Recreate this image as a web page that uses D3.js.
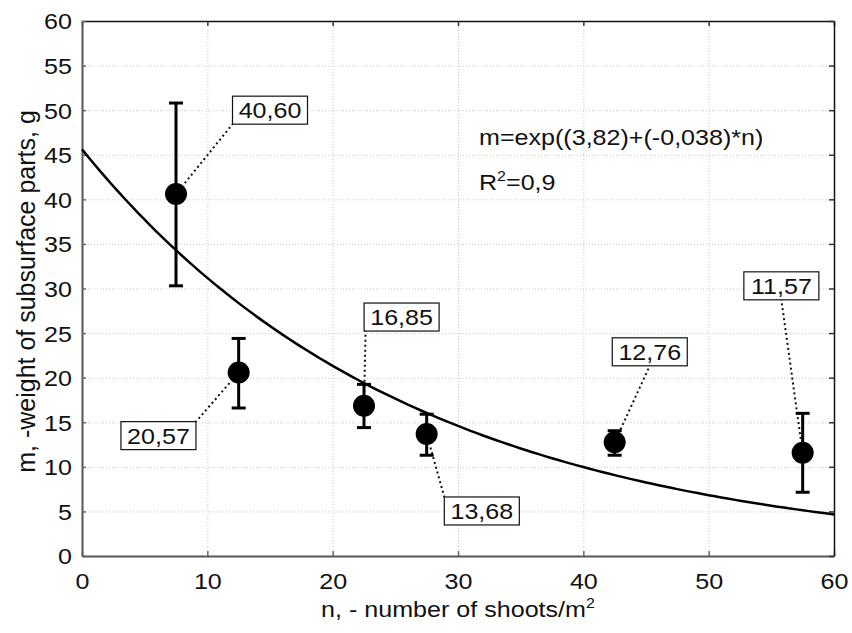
<!DOCTYPE html>
<html>
<head>
<meta charset="utf-8">
<script src="https://cdn.jsdelivr.net/npm/d3@7/dist/d3.min.js"></script>
<style>
  html, body { margin: 0; padding: 0; background: #fff; }
  svg { display: block; font-family: "Liberation Sans", Arial, sans-serif; }
</style>
</head>
<body>
<svg id="chart" width="852" height="633"></svg>
<script>
// ---- data ----
const shoots = [7.5, 12.5, 22.5, 27.5, 42.5, 57.5];
const weight = [40.60, 20.57, 16.85, 13.68, 12.76, 11.57];
const errHigh = [50.8, 24.4, 19.25, 15.9, 14.05, 16.0];
const errLow  = [30.3, 16.6, 14.4, 11.3, 11.3, 7.15];
const pointLabels = ["40,60", "20,57", "16,85", "13,68", "12,76", "11,57"];
const xTicks = [0, 10, 20, 30, 40, 50, 60];
const yTicks = [0, 5, 10, 15, 20, 25, 30, 35, 40, 45, 50, 55, 60];
const fitCoef = [3.82, -0.038];   // m = exp(a + b*n), from the chart's equation
const fitText = "m=exp((3,82)+(-0,038)*n)";
const r2Text = "=0,9";
const xTitle = "n, - number of shoots/m";
const yTitle = "m, -weight of subsurface parts, g";

// label box centres (data units) and anchor on box (fractions)
const labelCenter = [[15.0, 50.0], [6.1, 13.5], [25.5, 26.8], [31.9, 5.05], [45.3, 22.9], [55.8, 30.3]];
const labelAnchor = [[0, 1], [1, 0], [0.02, 1], [0, 0], [0.5, 1], [0.5, 1]];

// ---- layout ----
(function () {
const svg = d3.select("#chart");
const L = 82, R = 834, T = 21, B = 556;
const x = d3.scaleLinear().domain([0, 60]).range([L, R]);
const y = d3.scaleLinear().domain([0, 60]).range([B, T]);
const STRETCH = 1.14;

function stretch(sel) {
  sel.each(function () {
    const w = this.getComputedTextLength();
    d3.select(this).attr("textLength", w * STRETCH).attr("lengthAdjust", "spacingAndGlyphs");
  });
}

// grid
const grid = svg.append("g").attr("stroke", "#c8c8c8").attr("stroke-width", 1).attr("stroke-dasharray", "1,2");
grid.selectAll("line.h").data(yTicks.filter(d => d > 0 && d < 60)).join("line")
  .attr("x1", L).attr("x2", R).attr("y1", d => y(d) + 0.5).attr("y2", d => y(d) + 0.5);
grid.selectAll("line.v").data(xTicks.filter(d => d > 0 && d < 60)).join("line")
  .attr("y1", T).attr("y2", B).attr("x1", d => x(d) + 0.5).attr("x2", d => x(d) + 0.5);

// axes with d3 axis generators (inward ticks)
const ax = svg.append("g");
const gBottom = ax.append("g").attr("transform", `translate(0,${B})`)
  .call(d3.axisBottom(x).tickValues(xTicks).tickSizeInner(-5).tickSizeOuter(0).tickPadding(17));
const gTop = ax.append("g").attr("transform", `translate(0,${T})`)
  .call(d3.axisTop(x).tickValues(xTicks).tickSizeInner(-5).tickSizeOuter(0).tickFormat(""));
const gLeft = ax.append("g").attr("transform", `translate(${L},0)`)
  .call(d3.axisLeft(y).tickValues(yTicks).tickSizeInner(-4).tickSizeOuter(0).tickPadding(10));
const gRight = ax.append("g").attr("transform", `translate(${R},0)`)
  .call(d3.axisRight(y).tickValues(yTicks).tickSizeInner(-5).tickSizeOuter(0).tickFormat(""));

[gBottom, gLeft].forEach(g => { g.select(".domain").attr("stroke", "#555").attr("stroke-width", 2); g.selectAll(".tick line").attr("stroke", "#666").attr("stroke-width", 1.5); });
[gTop, gRight].forEach(g => { g.select(".domain").attr("stroke", "#111").attr("stroke-width", 1.5); g.selectAll(".tick line").attr("stroke", "#333").attr("stroke-width", 1.5); });

gBottom.selectAll(".tick text").attr("font-size", 22).attr("fill", "#111")
  .attr("font-family", "Liberation Sans, Arial, sans-serif").attr("dy", "0.71em");
gLeft.selectAll(".tick text").attr("font-size", 22).attr("fill", "#111")
  .attr("font-family", "Liberation Sans, Arial, sans-serif").attr("dy", "0.36em");
stretch(gBottom.selectAll(".tick text"));
stretch(gLeft.selectAll(".tick text"));

// axis titles
const xt = svg.append("text").attr("x", (L + R) / 2).attr("y", 617).attr("text-anchor", "middle")
  .attr("font-size", 22).attr("fill", "#111");
xt.append("tspan").text(xTitle);
xt.append("tspan").attr("font-size", 14).attr("dy", -9).text("2");
stretch(xt);

svg.append("text").attr("transform", `translate(35,${(T + B) / 2 + 3}) rotate(-90)`)
  .attr("text-anchor", "middle").attr("font-size", 25).attr("fill", "#111").text(yTitle);

// fitted curve
const curvePts = d3.range(0, 60.01, 0.5).map(n => [n, Math.exp(fitCoef[0] + fitCoef[1] * n)]);
svg.append("path").datum(curvePts)
  .attr("d", d3.line().x(d => x(d[0])).y(d => y(d[1])))
  .attr("fill", "none").attr("stroke", "#000").attr("stroke-width", 2.5);

// equation text
const eq = svg.append("text").attr("x", 479).attr("y", 145).attr("font-size", 22).attr("fill", "#111").text(fitText);
stretch(eq);
const r2 = svg.append("text").attr("x", 479).attr("y", 190).attr("font-size", 22).attr("fill", "#111");
r2.append("tspan").text("R");
r2.append("tspan").attr("font-size", 14).attr("dy", -9).text("2");
r2.append("tspan").attr("dy", 9).text(r2Text);
stretch(r2);

// data
const data = shoots.map((s, i) => ({ s, m: weight[i], hi: errHigh[i], lo: errLow[i], lab: pointLabels[i], c: labelCenter[i], a: labelAnchor[i] }));
const RAD = 11, BW = 75, BH = 28;

// leaders
data.forEach(d => {
  const px = x(d.s), py = y(d.m);
  const bx = x(d.c[0]) - BW / 2, by = y(d.c[1]) - BH / 2;
  const ax2 = bx + d.a[0] * BW, ay2 = by + d.a[1] * BH;
  const dx = ax2 - px, dy = ay2 - py, len = Math.hypot(dx, dy);
  const sx = px + dx / len * (RAD + 3), sy = py + dy / len * (RAD + 3);
  svg.append("line").attr("x1", sx).attr("y1", sy).attr("x2", ax2).attr("y2", ay2)
    .attr("stroke", "#111").attr("stroke-width", 2).attr("stroke-dasharray", "2,3");
});

// error bars
const eb = svg.append("g").attr("stroke", "#000").attr("stroke-width", 3);
eb.selectAll("line.v").data(data).join("line")
  .attr("x1", d => x(d.s)).attr("x2", d => x(d.s)).attr("y1", d => y(d.hi)).attr("y2", d => y(d.lo));
eb.selectAll("line.t").data(data).join("line")
  .attr("x1", d => x(d.s) - 7).attr("x2", d => x(d.s) + 7).attr("y1", d => y(d.hi)).attr("y2", d => y(d.hi));
eb.selectAll("line.b").data(data).join("line")
  .attr("x1", d => x(d.s) - 7).attr("x2", d => x(d.s) + 7).attr("y1", d => y(d.lo)).attr("y2", d => y(d.lo));

svg.append("g").selectAll("circle").data(data).join("circle")
  .attr("cx", d => x(d.s)).attr("cy", d => y(d.m)).attr("r", RAD).attr("fill", "#000");

// label boxes
const lb = svg.append("g").selectAll("g").data(data).join("g")
  .attr("transform", d => `translate(${x(d.c[0])},${y(d.c[1])})`);
lb.append("rect").attr("x", -BW / 2).attr("y", -BH / 2).attr("width", BW).attr("height", BH)
  .attr("fill", "#fff").attr("stroke", "#111").attr("stroke-width", 1.2);
const lt = lb.append("text").attr("text-anchor", "middle").attr("y", 8).attr("font-size", 22).attr("fill", "#111").text(d => d.lab);
stretch(lt);
})();
</script>
</body>
</html>
